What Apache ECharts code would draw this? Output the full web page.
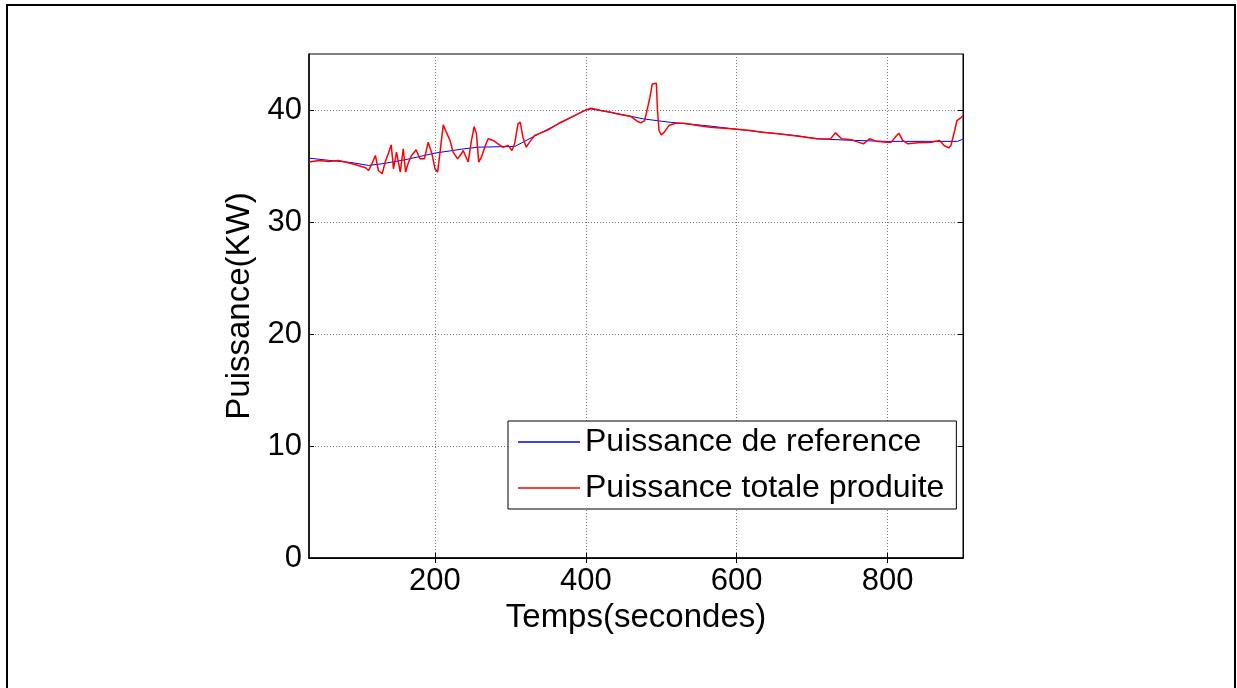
<!DOCTYPE html>
<html>
<head>
<meta charset="utf-8">
<script src="https://cdn.jsdelivr.net/npm/echarts@6/dist/echarts.min.js"></script>
<style>
html,body{margin:0;padding:0;background:#fff;}
#chart{width:1237px;height:688px;}
</style>
</head>
<body>
<div id="chart"></div>
<script>
// ---- data ----
const xTicks = [200, 400, 600, 800];
const yTicks = [0, 10, 20, 30, 40];
const seriesNames = ['Puissance de reference', 'Puissance totale produite'];

const refTime = [33, 60, 90, 112, 130, 160, 200, 235, 257, 306, 350, 400, 407, 440, 477, 512, 560, 598, 631, 680, 708, 750, 798, 850, 893, 900];
const refPower = [35.7, 35.5, 35.3, 35.05, 35.2, 35.55, 36.15, 36.5, 36.68, 36.75, 38.3, 40.0, 40.1, 39.7, 39.2, 38.9, 38.6, 38.3, 38.05, 37.7, 37.42, 37.3, 37.2, 37.2, 37.2, 37.4];

const prodTime = [33, 46, 59, 72, 81, 94, 108, 112, 116, 121, 125, 130, 134, 138, 142, 145, 149, 154, 158, 161, 165, 169, 175, 180, 186, 191, 196, 200, 203.5, 207, 211, 215, 220, 224, 230, 235, 237.4, 244, 248.4, 252, 255, 258, 261.6, 266, 270.4, 277, 283.6, 290, 297, 302, 305.6, 310, 313, 316.6, 321, 325.4, 332, 350, 367, 385, 400, 407, 420, 433, 442, 460, 468, 473, 478, 482, 485, 488, 493.5, 495, 497, 500, 504, 510, 519, 530, 548, 565, 578, 600, 618, 633, 655, 682, 706, 724, 731, 739, 752, 761, 768, 776, 785, 798, 805, 812, 815, 820, 827, 840, 858, 869, 875, 881, 884, 889, 892, 896.5, 900];
const prodPower = [35.35, 35.5, 35.41, 35.5, 35.35, 35.14, 34.84, 34.6, 35.14, 35.94, 34.6, 34.31, 35.35, 36.09, 36.89, 34.75, 36.24, 34.46, 36.54, 34.46, 35.35, 35.94, 36.45, 35.64, 35.64, 37.13, 36.09, 34.75, 34.46, 36.39, 38.67, 38.02, 37.28, 36.24, 35.64, 36.09, 36.39, 35.35, 37.28, 38.52, 37.87, 35.35, 35.79, 36.68, 37.43, 37.28, 36.98, 36.68, 36.83, 36.39, 36.98, 38.76, 38.91, 37.57, 36.68, 37.13, 37.72, 38.23, 38.91, 39.5, 40.01, 40.16, 39.95, 39.8, 39.65, 39.41, 39.0, 38.85, 39.06, 40.24, 41.14, 42.32, 42.38, 39.95, 38.17, 37.78, 38.02, 38.61, 38.82, 38.82, 38.61, 38.46, 38.4, 38.29, 38.17, 38.02, 37.87, 37.66, 37.43, 37.4, 37.96, 37.43, 37.34, 37.13, 36.98, 37.43, 37.22, 37.13, 37.13, 37.72, 37.93, 37.28, 36.98, 37.07, 37.13, 37.28, 36.83, 36.62, 36.83, 38.17, 39.06, 39.27, 39.5];

const xMin = 33, xMax = 900, yMin = 0, yMax = 45;

// ---- chart ----
const FONT = "'Liberation Sans', Arial, sans-serif";
const zip = (a, b) => a.map((v, i) => [v, b[i]]);
const gridLine = {show: true, lineStyle: {color: '#777', type: [1, 2], width: 1}};

const chart = echarts.init(document.getElementById('chart'), null, {renderer: 'canvas'});
chart.setOption({
  animation: false,
  backgroundColor: '#fff',
  textStyle: {fontFamily: FONT},
  graphic: [{
    type: 'rect', z: 100,
    shape: {x: 7, y: 5, width: 1228, height: 720},
    style: {fill: 'none', stroke: '#000', lineWidth: 2}
  }],
  grid: {left: 309, right: 274, top: 54, bottom: 130, show: true, borderColor: '#000', borderWidth: 1, backgroundColor: '#fff'},
  legend: {
    orient: 'vertical', left: 508, top: 421,
    backgroundColor: '#fff', borderColor: '#000', borderWidth: 1, borderRadius: 0,
    padding: [5, 12, 5, 10], itemGap: 14, itemWidth: 62, itemHeight: 1.5,
    icon: 'rect',
    textStyle: {fontFamily: FONT, fontSize: 32, color: '#000'},
    data: seriesNames
  },
  xAxis: [{
    type: 'value', min: xMin, max: xMax, position: 'bottom',
    name: 'Temps(secondes)', nameLocation: 'middle', nameGap: 41,
    nameTextStyle: {fontFamily: FONT, fontSize: 33, color: '#000'},
    axisLine: {show: true, lineStyle: {color: '#000', width: 1.5}},
    axisTick: {show: true, inside: true, length: 5, customValues: xTicks, lineStyle: {color: '#000'}},
    axisLabel: {customValues: xTicks, fontFamily: FONT, fontSize: 31, color: '#000', margin: 8},
    splitLine: gridLine
  }, {
    type: 'value', min: xMin, max: xMax, position: 'top',
    axisLine: {show: true, lineStyle: {color: '#000', width: 1}},
    axisTick: {show: true, inside: true, length: 5, customValues: xTicks, lineStyle: {color: '#000'}},
    axisLabel: {show: false}, splitLine: {show: false}
  }],
  yAxis: [{
    type: 'value', min: yMin, max: yMax, interval: 10, position: 'left',
    name: 'Puissance(KW)', nameLocation: 'middle', nameGap: 51,
    nameTextStyle: {fontFamily: FONT, fontSize: 33, color: '#000'},
    axisLine: {show: true, lineStyle: {color: '#000', width: 1.5}},
    axisTick: {show: true, inside: true, length: 5, customValues: yTicks, lineStyle: {color: '#000'}},
    axisLabel: {customValues: yTicks, fontFamily: FONT, fontSize: 31, color: '#000', margin: 7},
    splitLine: gridLine
  }, {
    type: 'value', min: yMin, max: yMax, interval: 10, position: 'right',
    axisLine: {show: true, lineStyle: {color: '#000', width: 1}},
    axisTick: {show: true, inside: true, length: 5, customValues: yTicks, lineStyle: {color: '#000'}},
    axisLabel: {show: false}, splitLine: {show: false}
  }],
  series: [{
    name: seriesNames[0], type: 'line', xAxisIndex: 0, yAxisIndex: 0,
    data: zip(refTime, refPower), symbol: 'none', showSymbol: false,
    lineStyle: {color: '#0000ff', width: 1}, itemStyle: {color: '#0000ff'}, z: 3
  }, {
    name: seriesNames[1], type: 'line', xAxisIndex: 0, yAxisIndex: 0,
    data: zip(prodTime, prodPower), symbol: 'none', showSymbol: false,
    lineStyle: {color: '#ff0000', width: 1.5}, itemStyle: {color: '#ff0000'}, z: 4
  }]
});
</script>
</body>
</html>
